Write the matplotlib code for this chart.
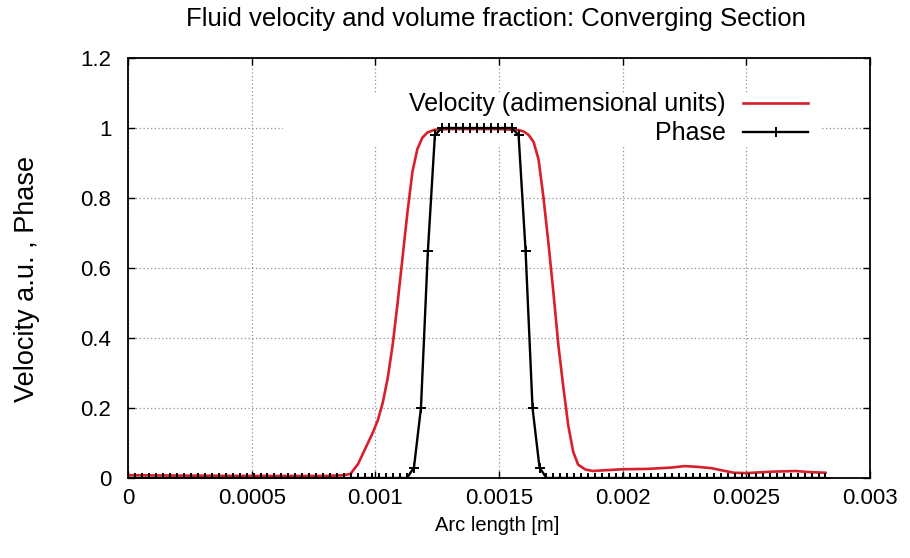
import numpy as np
import matplotlib
matplotlib.use("Agg")
import matplotlib.pyplot as plt
from matplotlib.patches import Rectangle

# Velocity profile (red line)
vel_x = [0, 0.0002, 0.0005, 0.0008, 0.00087, 0.0009, 0.00093, 0.00096, 0.00099,
         0.00101, 0.00103, 0.00105, 0.00107, 0.00109, 0.00111, 0.00113, 0.00115,
         0.00117, 0.00119, 0.00121, 0.00124, 0.0013, 0.0014, 0.0015, 0.00158,
         0.0016, 0.00162, 0.00164, 0.00166, 0.00168, 0.0017, 0.00172, 0.00174,
         0.00176, 0.00178, 0.0018, 0.00182, 0.00185, 0.00188, 0.0019, 0.002,
         0.0021, 0.0022, 0.00225, 0.0023, 0.00236, 0.0024, 0.00245, 0.0025,
         0.0026, 0.0027, 0.00275, 0.00282]
vel_y = [0.008, 0.007, 0.006, 0.006, 0.008, 0.012, 0.04, 0.085, 0.13,
         0.165, 0.215, 0.285, 0.38, 0.5, 0.63, 0.76, 0.875,
         0.94, 0.972, 0.987, 0.995, 0.997, 0.997, 0.997, 0.994,
         0.99, 0.98, 0.96, 0.91, 0.8, 0.67, 0.53, 0.38,
         0.26, 0.15, 0.075, 0.038, 0.024, 0.02, 0.021, 0.025,
         0.026, 0.03, 0.034, 0.032, 0.028, 0.022, 0.015, 0.014,
         0.018, 0.02, 0.017, 0.015]

# Phase (volume fraction), sampled on a regular grid
phase_step = 2.82e-5
phase = ([0.0] * 41 + [0.03, 0.2, 0.65, 0.98] + [1.0] * 11
         + [0.98, 0.65, 0.2, 0.03] + [0.0] * 41)
phase_x = np.arange(len(phase)) * phase_step

x_ticks = [0, 0.0005, 0.001, 0.0015, 0.002, 0.0025, 0.003]
x_labels = ["0", "0.0005", "0.001", "0.0015", "0.002", "0.0025", "0.003"]
y_ticks = [0, 0.2, 0.4, 0.6, 0.8, 1.0, 1.2]
y_labels = ["0", "0.2", "0.4", "0.6", "0.8", "1", "1.2"]

plt.rcParams['font.family'] = ['Liberation Sans', 'DejaVu Sans']

fig = plt.figure(figsize=(9.1, 5.58), dpi=100)
ax = fig.add_axes([128 / 910, 1 - 478 / 558, 742 / 910, 420 / 558])

ax.plot(vel_x, vel_y, color='#d8202c', lw=1.9, zorder=2,
        label='Velocity (adimensional units)')
ax.plot(phase_x, phase, color='black', lw=1.7, marker='+', ms=7, mew=1.4,
        zorder=3, label='Phase')

ax.set_xlim(0, 0.003)
ax.set_ylim(0, 1.2)
ax.set_xticks(x_ticks)
ax.set_xticklabels(x_labels, fontsize=16)
ax.set_yticks(y_ticks)
ax.set_yticklabels(y_labels, fontsize=16)
ax.tick_params(direction='in', length=5, width=1, top=True, right=True)
ax.tick_params(axis='y', pad=12)
ax.tick_params(axis='x', pad=7)

ax.set_axisbelow(True)
ax.grid(True, color='#909090', lw=0.9, linestyle=(0, (1, 2)))
for s in ax.spines.values():
    s.set_linewidth(1.3)

# opaque key background hides the grid under it
ax.add_patch(Rectangle((0.209, 0.793), 0.725, 0.124, transform=ax.transAxes,
                       facecolor='white', edgecolor='none', zorder=1))
leg = ax.legend(loc='upper right', bbox_to_anchor=(0.917, 0.918),
                frameon=False, markerfirst=False, fontsize=18,
                handlelength=2.6, handletextpad=0.7, labelspacing=0.2,
                borderaxespad=0, borderpad=0)
leg.set_zorder(4)

fig.text(0.545, 0.966, 'Fluid velocity and volume fraction: Converging Section',
         ha='center', va='center', fontsize=18.5)
fig.text(0.546, 0.059, 'Arc length [m]', ha='center', va='center', fontsize=14.5)
fig.text(0.030, 0.50, 'Velocity a.u. , Phase', ha='center', va='center',
         rotation=90, fontsize=19.5)

fig.savefig('out.png', dpi=100)
